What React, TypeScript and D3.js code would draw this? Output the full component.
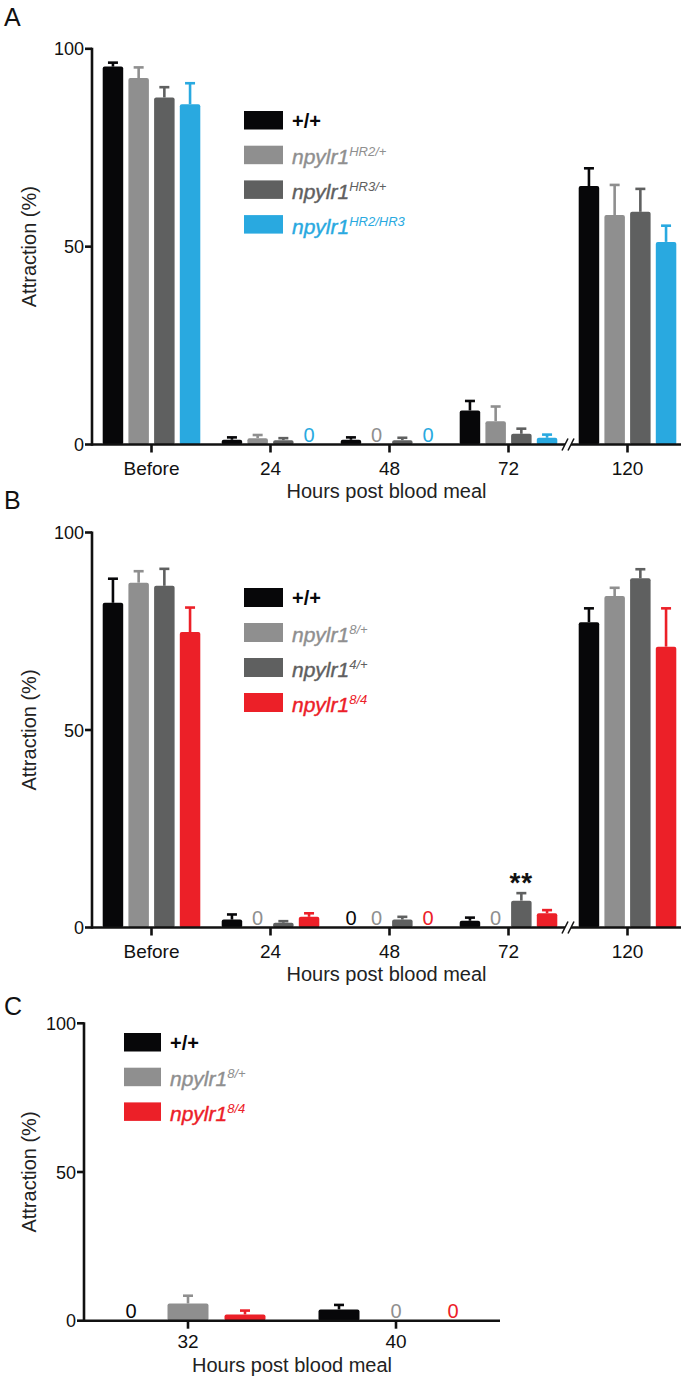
import React from "react";
import * as d3 from "d3";

// ---------- data ----------
const categoriesAB = ["Before", "24", "48", "72", "120"];
const categoriesC = ["32", "40"];
const yTicks = [0, 50, 100];

// Panel A (mean, upper error)
const aWT = [95.5, 1.2, 1.2, 8.6, 65.3];
const aWTErr = [1.0, 0.6, 0.6, 2.4, 4.5];
const aHR2Het = [92.6, 1.6, 0, 5.9, 58.0];
const aHR2HetErr = [2.7, 0.8, 0, 3.7, 7.6];
const aHR3Het = [87.7, 1.1, 1.1, 2.7, 58.8];
const aHR3HetErr = [2.6, 0.5, 0.6, 1.3, 5.8];
const aHR2HR3 = [86.0, 0, 0, 1.7, 51.2];
const aHR2HR3Err = [5.3, 0, 0, 0.8, 4.1];

// Panel B
const bWT = [82.2, 2.0, 0, 1.7, 77.3];
const bWTErr = [6.1, 1.3, 0, 0.8, 3.5];
const b8Het = [87.3, 0, 0, 0, 83.9];
const b8HetErr = [2.9, 0, 0, 0, 2.1];
const b4Het = [86.5, 1.2, 2.0, 6.8, 88.4];
const b4HetErr = [4.3, 0.4, 0.7, 1.9, 2.3];
const b84 = [74.8, 2.7, 0, 3.6, 71.1];
const b84Err = [6.2, 0.9, 0, 0.8, 9.7];

// Panel C
const cWT = [0, 3.8];
const cWTErr = [0, 1.5];
const c8Het = [5.8, 0];
const c8HetErr = [2.6, 0];
const c84 = [2.1, 0];
const c84Err = [1.3, 0];

const BLACK = "#070709";
const GRAY = "#8f8f8f";
const DARK = "#5f6060";
const BLUE = "#29a9e0";
const RED = "#ec2028";
const FONT = "'Liberation Sans', Arial, Helvetica, sans-serif";

type Series = { base: string; sup: string; color: string; values: number[]; errors: number[] };

const seriesA: Series[] = [
  { base: "+/+", sup: "", color: BLACK, values: aWT, errors: aWTErr },
  { base: "npylr1", sup: "HR2/+", color: GRAY, values: aHR2Het, errors: aHR2HetErr },
  { base: "npylr1", sup: "HR3/+", color: DARK, values: aHR3Het, errors: aHR3HetErr },
  { base: "npylr1", sup: "HR2/HR3", color: BLUE, values: aHR2HR3, errors: aHR2HR3Err },
];
const seriesB: Series[] = [
  { base: "+/+", sup: "", color: BLACK, values: bWT, errors: bWTErr },
  { base: "npylr1", sup: "8/+", color: GRAY, values: b8Het, errors: b8HetErr },
  { base: "npylr1", sup: "4/+", color: DARK, values: b4Het, errors: b4HetErr },
  { base: "npylr1", sup: "8/4", color: RED, values: b84, errors: b84Err },
];
const seriesC: Series[] = [
  { base: "+/+", sup: "", color: BLACK, values: cWT, errors: cWTErr },
  { base: "npylr1", sup: "8/+", color: GRAY, values: c8Het, errors: c8HetErr },
  { base: "npylr1", sup: "8/4", color: RED, values: c84, errors: c84Err },
];

type Star = { category: string; series: number; text: string };

type PanelProps = {
  label: string;
  labelY: number;
  categories: string[];
  series: Series[];
  yRange: [number, number];
  xRange: [number, number];
  axisEnd: number;
  barWidth: number;
  barStep: number;
  breakX?: number;
  legend: { x: number; y: number; step: number; w: number; h: number };
  stars?: Star[];
  tickDy: number;
  titleDy: number;
};

function Panel(p: PanelProps) {
  const y = d3.scaleLinear().domain([0, 100]).range(p.yRange);
  const x = d3.scaleBand<string>().domain(p.categories).range(p.xRange).paddingInner(0).paddingOuter(0);
  const n = p.series.length;
  const y0 = y(0);
  const axisX = p.xRange[0];
  const center = (c: string) => (x(c) as number) + x.bandwidth() / 2;
  const barX = (c: string, i: number) => center(c) + (i - (n - 1) / 2) * p.barStep;
  const sw = 2.6;

  const axisSegments: [number, number][] = p.breakX
    ? [
        [axisX, p.breakX - 3],
        [p.breakX + 3, p.axisEnd],
      ]
    : [[axisX, p.axisEnd]];

  return (
    <g>
      <text x={4} y={p.labelY} fontSize={25} fontFamily={FONT} fill="#111">
        {p.label}
      </text>
      {/* bars */}
      {p.series.map((s, i) =>
        p.categories.map((c, j) => {
          const v = s.values[j];
          const cx = barX(c, i);
          if (v === 0) {
            return (
              <text
                key={`${i}-${j}`}
                x={cx}
                y={y0 - 3}
                textAnchor="middle"
                fontSize={20}
                fontFamily={FONT}
                fill={s.color}
              >
                0
              </text>
            );
          }
          const top = y(v);
          const etop = y(v + s.errors[j]);
          return (
            <g key={`${i}-${j}`}>
              <line x1={cx} x2={cx} y1={top} y2={etop} stroke={s.color} strokeWidth={sw} />
              <line x1={cx - 5} x2={cx + 5} y1={etop} y2={etop} stroke={s.color} strokeWidth={sw} />
              <rect
                x={cx - p.barWidth / 2}
                y={top}
                width={p.barWidth}
                height={Math.max(y0 - top, 2)}
                rx={2}
                fill={s.color}
              />
            </g>
          );
        })
      )}
      {/* stars */}
      {(p.stars || []).map((st, k) => {
        const s = p.series[st.series];
        const j = p.categories.indexOf(st.category);
        const etop = y(s.values[j] + s.errors[j]);
        return (
          <text
            key={k}
            x={barX(st.category, st.series)}
            y={etop - 1}
            textAnchor="middle"
            fontSize={28}
            fontWeight="bold"
            fontFamily={FONT}
            fill="#111"
            letterSpacing={1}
          >
            {st.text}
          </text>
        );
      })}
      {/* y axis */}
      <line x1={axisX} x2={axisX} y1={y(0) + sw / 2} y2={y(100) - 1} stroke="#111" strokeWidth={sw} />
      {yTicks.map((t) => (
        <g key={t}>
          <line x1={axisX - 7} x2={axisX} y1={y(t)} y2={y(t)} stroke="#111" strokeWidth={sw} />
          <text
            x={axisX - 8}
            y={y(t) + 6.5}
            textAnchor="end"
            fontSize={18}
            fontFamily={FONT}
            fill="#111"
          >
            {t}
          </text>
        </g>
      ))}
      <text
        transform={`translate(${29},${(p.yRange[0] + p.yRange[1]) / 2}) rotate(-90)`}
        textAnchor="middle"
        dominantBaseline="central"
        fontSize={20}
        fontFamily={FONT}
        fill="#222"
      >
        Attraction (%)
      </text>
      {/* x axis */}
      {axisSegments.map(([a, b], k) => (
        <line key={k} x1={a} x2={b} y1={y0} y2={y0} stroke="#111" strokeWidth={sw} />
      ))}
      {p.breakX !== undefined && (
        <g stroke="#111" strokeWidth={1.6}>
          <line x1={p.breakX - 6} x2={p.breakX} y1={y0 + 6} y2={y0 - 6} />
          <line x1={p.breakX} x2={p.breakX + 6} y1={y0 + 6} y2={y0 - 6} />
        </g>
      )}
      {p.categories.map((c) => (
        <g key={c}>
          <line x1={center(c)} x2={center(c)} y1={y0} y2={y0 + 8} stroke="#111" strokeWidth={sw} />
          <text
            x={center(c)}
            y={y0 + p.tickDy}
            textAnchor="middle"
            fontSize={19}
            fontFamily={FONT}
            fill="#111"
          >
            {c}
          </text>
        </g>
      ))}
      <text
        x={(axisX + p.axisEnd) / 2}
        y={y0 + p.titleDy}
        textAnchor="middle"
        fontSize={20}
        fontFamily={FONT}
        fill="#222"
      >
        Hours post blood meal
      </text>
      {/* legend */}
      {p.series.map((s, i) => {
        const ty = p.legend.y + i * p.legend.step;
        const tx = p.legend.x + p.legend.w + 9;
        return (
          <g key={i}>
            <rect x={p.legend.x} y={ty} width={p.legend.w} height={p.legend.h} fill={s.color} />
            {s.sup === "" ? (
              <text x={tx} y={ty + p.legend.h - 2} fontSize={20} fontWeight="bold" fontFamily={FONT} fill={s.color}>
                {s.base}
              </text>
            ) : (
              <text x={tx} y={ty + p.legend.h} fontSize={21} fontStyle="italic" fontFamily={FONT} fill={s.color} stroke={s.color} strokeWidth={0.4}>
                {s.base}
                <tspan fontSize={13} strokeWidth={0} dy={-8}>
                  {s.sup}
                </tspan>
              </text>
            )}
          </g>
        );
      })}
    </g>
  );
}

export default function App() {
  return (
    <svg
      width={691}
      height={1380}
      style={{ position: "absolute", left: 0, top: 0, background: "#fff" }}
    >
      <rect width={691} height={1380} fill="#fff" />
      <Panel
        label="A"
        labelY={26}
        categories={categoriesAB}
        series={seriesA}
        yRange={[444.5, 48.8]}
        xRange={[92, 687]}
        axisEnd={681}
        barWidth={20.5}
        barStep={25.7}
        breakX={568}
        legend={{ x: 244, y: 111, step: 34.7, w: 39, h: 18.5 }}
        tickDy={30}
        titleDy={53}
      />
      <Panel
        label="B"
        labelY={509}
        categories={categoriesAB}
        series={seriesB}
        yRange={[927.5, 532.5]}
        xRange={[92, 687]}
        axisEnd={681}
        barWidth={20.5}
        barStep={25.7}
        breakX={568}
        legend={{ x: 244, y: 588, step: 35, w: 39, h: 19 }}
        stars={[{ category: "72", series: 2, text: "**" }]}
        tickDy={30}
        titleDy={53}
      />
      <Panel
        label="C"
        labelY={1015}
        categories={categoriesC}
        series={seriesC}
        yRange={[1320.7, 1023.3]}
        xRange={[84, 500]}
        axisEnd={500}
        barWidth={41}
        barStep={57}
        legend={{ x: 124, y: 1033, step: 34.7, w: 37, h: 18.5 }}
        tickDy={27}
        titleDy={51}
      />
    </svg>
  );
}
